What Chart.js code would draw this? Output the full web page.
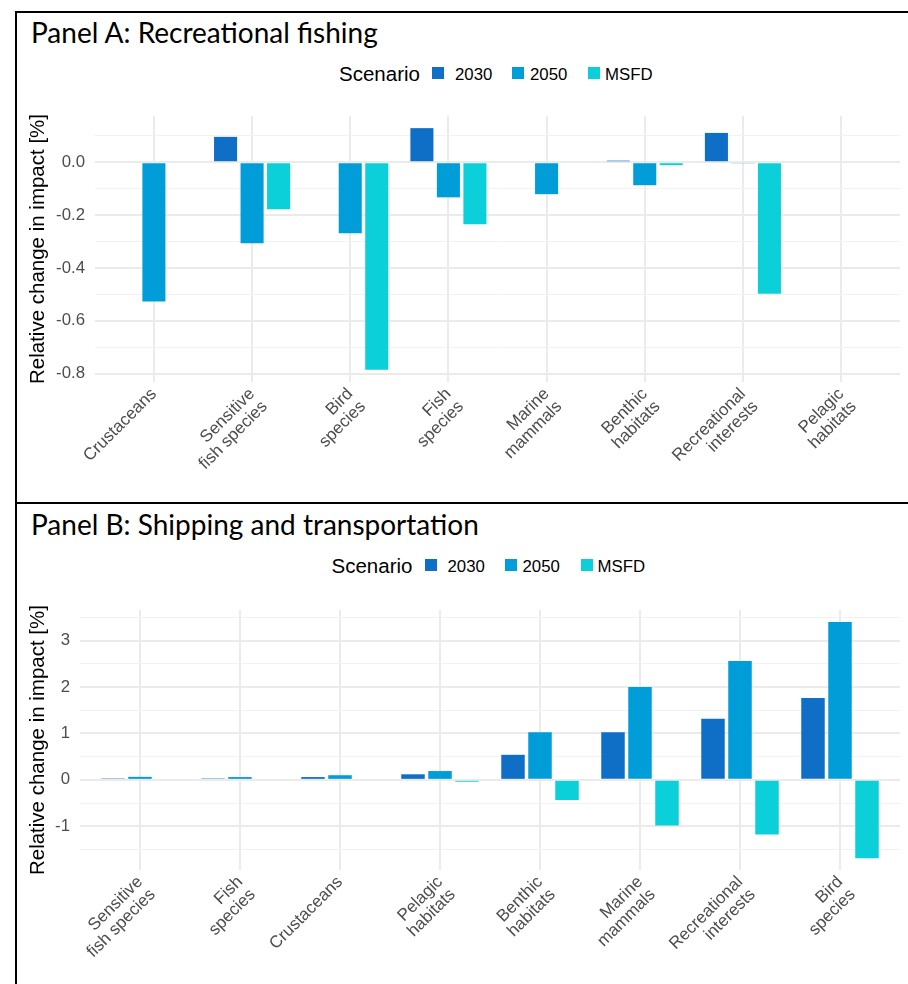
<!DOCTYPE html>
<html>
<head>
<meta charset="utf-8">
<script src="https://cdn.jsdelivr.net/npm/chart.js@4.4.0/dist/chart.umd.min.js"></script>
<style>
  body { margin: 0; background: #fff; width: 908px; height: 984px; position: relative; overflow: hidden;
         font-family: "Liberation Sans", Arial, sans-serif; }
  .line { position: absolute; background: #000; }
  .ttl { position: absolute; left: 31px; font-family: Lato, "Open Sans", sans-serif; font-size: 28px;
         line-height: 1; color: #000; white-space: nowrap; }
  .lg { position: absolute; line-height: 1; color: #000; white-space: nowrap; }
  .sq { position: absolute; width: 12px; height: 12px; }
  canvas { position: absolute; left: 0; }
</style>
</head>
<body>

<div class="line" style="left:15px;top:11px;width:893px;height:2px"></div>
<div class="line" style="left:15px;top:11px;width:2px;height:973px"></div>
<div class="line" style="left:15px;top:502px;width:893px;height:2px"></div>

<div class="ttl" style="top:18px">Panel A: Recreational fishing</div>
<div class="ttl" style="top:510px">Panel B: Shipping and transportation</div>

<div id="legA"></div>
<div id="legB"></div>

<canvas id="chartA" width="908" height="412" style="top:88px"></canvas>
<canvas id="chartB" width="908" height="394" style="top:590px"></canvas>

<script>
// series
var scenarios = ['2030', '2050', 'MSFD'];
var colors = ['#0f6fc6', '#009dd9', '#0bd0d9'];

// Panel A: Recreational fishing
var catsA = [['Crustaceans'], ['Sensitive', 'fish species'], ['Bird', 'species'], ['Fish', 'species'],
             ['Marine', 'mammals'], ['Benthic', 'habitats'], ['Recreational', 'interests'], ['Pelagic', 'habitats']];
var a2030 = [null, 0.096, null, 0.129, null, 0.006, 0.111, null];
var a2050 = [-0.527, -0.307, -0.269, -0.133, -0.121, -0.087, -0.003, null];
var aMSFD = [null, -0.178, -0.786, -0.235, null, -0.011, -0.498, null];

// Panel B: Shipping and transportation
var catsB = [['Sensitive', 'fish species'], ['Fish', 'species'], ['Crustaceans'], ['Pelagic', 'habitats'],
             ['Benthic', 'habitats'], ['Marine', 'mammals'], ['Recreational', 'interests'], ['Bird', 'species']];
var b2030 = [0.03, 0.03, 0.06, 0.12, 0.54, 1.026, 1.318, 1.767];
var b2050 = [0.065, 0.06, 0.1, 0.19, 1.026, 2.0, 2.565, 3.406];
var bMSFD = [null, null, null, -0.04, -0.435, -0.983, -1.176, -1.689];

var yTitle = 'Relative change in impact [%]';

Chart.defaults.font.family = '"Liberation Sans", Arial, sans-serif';
Chart.defaults.color = '#4d4d4d';

// legend: "Scenario" + coloured squares, dx shifts it to the panel centre
function makeLegend(id, top, dx) {
    var el = document.getElementById(id);
    var html = '<div class="lg" style="left:' + (339 + dx) + 'px;top:' + (top - 3) + 'px;font-size:20.5px">Scenario</div>';
    var sqX = [432, 512, 588], lbX = [455, 530, 605];
    for (var i = 0; i < scenarios.length; i++) {
        html += '<div class="sq" style="left:' + (sqX[i] + dx) + 'px;top:' + top + 'px;background:' + colors[i] + '"></div>';
        html += '<div class="lg" style="left:' + (lbX[i] + dx) + 'px;top:' + top + 'px;font-size:16.8px">' + scenarios[i] + '</div>';
    }
    el.innerHTML = html;
}
makeLegend('legA', 67, 0);
makeLegend('legB', 559, -7.5);

function drawPanel(id, cats, vals, yMin, yMax, step, isMajor, fmt, yWidth, xHeight, padTop) {
    var datasets = [];
    for (var i = 0; i < scenarios.length; i++) {
        datasets.push({
            label: scenarios[i],
            data: vals[i],
            backgroundColor: colors[i],
            borderWidth: 0,
            categoryPercentage: 0.81,
            barPercentage: 0.87
        });
    }
    return new Chart(document.getElementById(id), {
        type: 'bar',
        data: { labels: cats, datasets: datasets },
        options: {
            responsive: false,
            animation: false,
            layout: { padding: { left: 22, right: 8, top: padTop, bottom: 0 } },
            plugins: { legend: { display: false }, tooltip: { enabled: false } },
            scales: {
                x: {
                    offset: false,
                    // ggplot style: 0.6 category of space on each side
                    afterBuildTicks: function(s) { s._startValue = s.min - 0.6; s._valueRange = s.max - s.min + 1.2; },
                    afterFit: function(s) { s.height = xHeight; },
                    grid: { offset: false, color: '#ebebeb', lineWidth: 2, drawTicks: false },
                    border: { display: false },
                    ticks: { autoSkip: false, minRotation: 45, maxRotation: 45, padding: 3,
                             color: '#4d4d4d', font: { size: 17, lineHeight: 1.05 } }
                },
                y: {
                    min: yMin,
                    max: yMax,
                    afterFit: function(s) { s.width = yWidth; },
                    grid: {
                        drawTicks: false,
                        color: function(c) { return isMajor(c.tick.value) ? '#ebebeb' : '#f2f2f2'; },
                        lineWidth: function(c) { return isMajor(c.tick.value) ? 2 : 1; }
                    },
                    border: { display: false },
                    ticks: { stepSize: step, includeBounds: false, maxTicksLimit: 100, padding: 10,
                             color: '#4d4d4d', font: { size: 16.8 },
                             callback: function(v) { return isMajor(v) ? fmt(v) : ''; } },
                    title: { display: true, text: yTitle, color: '#000', font: { size: 20.5 }, padding: 4 }
                }
            }
        }
    });
}

drawPanel('chartA', catsA, [a2030, a2050, aMSFD], -0.832, 0.175, 0.1,
    function(v) { return Math.round(v * 10) % 2 === 0; },
    function(v) { var r = Math.round(v * 10) / 10; return (r === 0 ? 0 : r).toFixed(1); },
    73, 118, 28);

drawPanel('chartB', catsB, [b2030, b2050, bMSFD], -1.944, 3.661, 0.5,
    function(v) { return Math.round(v * 2) % 2 === 0; },
    function(v) { return String(Math.round(v)); },
    58, 114, 18);
</script>
</body>
</html>
